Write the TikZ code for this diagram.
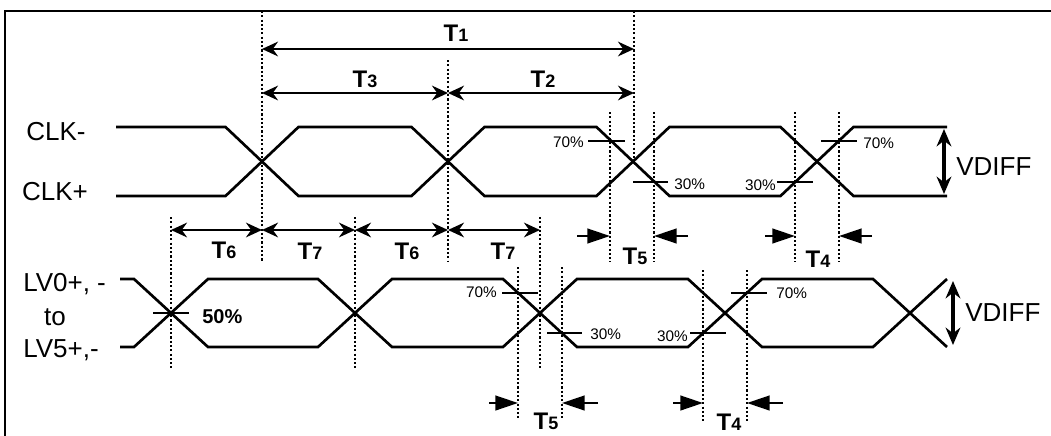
\documentclass[tikz,border=0pt]{standalone}
\usepackage{fontspec}
\setmainfont{Liberation Sans}
\usetikzlibrary{arrows.meta}
\newcommand{\tlab}[1]{{\bfseries\fontsize{18}{20}\selectfont T\fontsize{13.5}{15}\selectfont #1}}
\tikzset{
	sigline/.style={line width=2pt,line join=miter},
	dotline/.style={line width=1.8pt,dash pattern=on 1.6pt off 1.6pt},
	dimarr/.style={line width=1.7pt,{Stealth[length=12pt,width=11pt]}-{Stealth[length=12pt,width=11pt]}},
	gaparr/.style={line width=1.7pt,-{Triangle[length=17pt,width=11pt]}},
	vdarr/.style={line width=2.6pt,{Stealth[length=13pt,width=11pt]}-{Stealth[length=13pt,width=11pt]}},
	bigtext/.style={font=\fontsize{19.5}{22}\selectfont,inner sep=0pt},
	lvltext/.style={font=\fontsize{11.5}{13}\selectfont,inner sep=0pt},
	tname/.style={inner sep=0pt}
}
\begin{document}
\begin{tikzpicture}[x=0.75pt,y=-0.75pt]
	\useasboundingbox (0,0) rectangle (1051,436);
	\clip (0,0) rectangle (1051,436);
	\draw[line width=1.7pt] (5,445) -- (5,11) -- (1060,11);
	\draw[sigline] (116,127) -- (225.5,127) -- (298.5,196) -- (411.5,196) -- (484.5,127) -- (596.5,127) -- (669.5,196) -- (780.5,196) -- (853.5,127) -- (947,127);
	\draw[sigline] (116,196) -- (225.5,196) -- (298.5,127) -- (411.5,127) -- (484.5,196) -- (596.5,196) -- (669.5,127) -- (780.5,127) -- (853.5,196) -- (947,196);
	\draw[sigline] (120,279) -- (134,279) -- (208,347) -- (318,347) -- (392,279) -- (503,279) -- (577,347) -- (688,347) -- (762,279) -- (873,279) -- (947,347);
	\draw[sigline] (120,347) -- (134,347) -- (208,279) -- (318,279) -- (392,347) -- (503,347) -- (577,279) -- (688,279) -- (762,347) -- (873,347) -- (947,279);
	\foreach \x/\a/\b in {262/11/262,634/11/162,448/60/262,610/112/262,654/112/262,795/112/262,839/112/262,171/217/369,355/217/369,540/217/369,518/267/420,562/267/420,703/270/421,747/270/421}
		\draw[dotline] (\x,\a) -- (\x,\b);
	\draw[dimarr] (262,49) -- (634,49);
	\draw[dimarr] (262,93) -- (448,93);
	\draw[dimarr] (448,93) -- (634,93);
	\foreach \a/\b in {171/262,262/355,355/448,448/540}
		\draw[dimarr] (\a,230) -- (\b,230);
	\draw[gaparr] (577,236) -- (610,236);
	\draw[gaparr] (688,236) -- (654,236);
	\draw[gaparr] (765,236) -- (795,236);
	\draw[gaparr] (872,236) -- (839,236);
	\draw[gaparr] (489,403) -- (518,403);
	\draw[gaparr] (598,403) -- (562,403);
	\draw[gaparr] (673,403) -- (703,403);
	\draw[gaparr] (783,403) -- (747,403);
	\draw[vdarr] (944,129) -- (944,194);
	\draw[vdarr] (953,281) -- (953,345);
	\draw[sigline] (588,141) -- (625,141);
	\draw[sigline] (633,182) -- (668,182);
	\draw[sigline] (777,182) -- (813,182);
	\draw[sigline] (821,141) -- (857,141);
	\draw[sigline] (502,293) -- (538,293);
	\draw[sigline] (547,333) -- (582,333);
	\draw[sigline] (690,333) -- (726,333);
	\draw[sigline] (731,293) -- (767,293);
	\draw[sigline] (153,313) -- (189,313);
	\node[bigtext] (clkm) at (56,132) {CLK-};
	\node[bigtext] (clkp) at (55,192) {CLK+};
	\node[bigtext,anchor=west] (lvtop) at (23,284) {LV0+, -};
	\node[bigtext] (lvto) at (55,317) {to};
	\node[bigtext,anchor=west] (lvbot) at (23,350) {LV5+,-};
	\node[bigtext,anchor=west] (vdclk) at (956,167) {VDIFF};
	\node[bigtext,anchor=west] (vdlv) at (965,313) {VDIFF};
	\node[lvltext,anchor=east] (pa) at (584,142) {70\%};
	\node[lvltext,anchor=west] (pb) at (674,184) {30\%};
	\node[lvltext,anchor=east] (pc) at (776,185) {30\%};
	\node[lvltext,anchor=west] (pd) at (863,143) {70\%};
	\node[lvltext,anchor=east] (pe) at (497,292) {70\%};
	\node[lvltext,anchor=west] (pf) at (590,334) {30\%};
	\node[lvltext,anchor=east] (pg) at (688,336) {30\%};
	\node[lvltext,anchor=west] (ph) at (776,293) {70\%};
	\node[font=\bfseries\fontsize{15}{17}\selectfont,inner sep=0pt,anchor=west] (mid) at (202,317) {50\%};
	\node[tname] (t1) at (456,33) {\tlab{1}};
	\node[tname] (t3) at (365,79) {\tlab{3}};
	\node[tname] (t2) at (543,79) {\tlab{2}};
	\node[tname] (t6a) at (224,250) {\tlab{6}};
	\node[tname] (t7a) at (310,251) {\tlab{7}};
	\node[tname] (t6b) at (407,251) {\tlab{6}};
	\node[tname] (t7b) at (503,251) {\tlab{7}};
	\node[tname] (t5a) at (635,256) {\tlab{5}};
	\node[tname] (t4a) at (818,259) {\tlab{4}};
	\node[tname] (t5b) at (546,421) {\tlab{5}};
	\node[tname] (t4b) at (729,422) {\tlab{4}};
\end{tikzpicture}
\end{document}
